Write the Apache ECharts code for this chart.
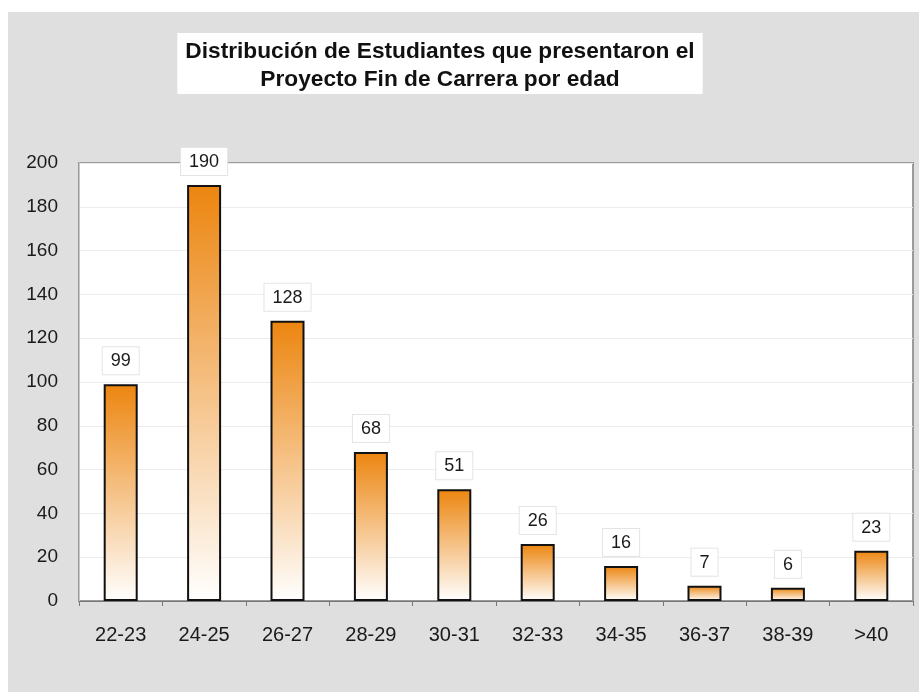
<!DOCTYPE html>
<html>
<head>
<meta charset="utf-8">
<script src="https://cdn.jsdelivr.net/npm/echarts@6/dist/echarts.min.js"></script>
<style>
  html, body { margin: 0; padding: 0; background: #fff; }
</style>
</head>
<body>
<div id="chart" style="width: 919px; height: 692px;"></div>
<script>
// datos
const edades = ['22-23', '24-25', '26-27', '28-29', '30-31', '32-33', '34-35', '36-37', '38-39', '>40'];
const estudiantes = [99, 190, 128, 68, 51, 26, 16, 7, 6, 23];
const yTicks = [0, 20, 40, 60, 80, 100, 120, 140, 160, 180, 200];

const fuente = 'Arial, "Liberation Sans", Helvetica, sans-serif';

const chart = echarts.init(document.getElementById('chart'));

const option = {
    backgroundColor: '#fff',
    animation: false,
    graphic: {
        elements: [{
            type: 'rect',
            z: -100,
            silent: true,
            shape: { x: 8, y: 12, width: 911, height: 680 },
            style: { fill: '#dfdfdf' }
        }]
    },
    title: {
        text: 'Distribución de Estudiantes que presentaron el\nProyecto Fin de Carrera por edad',
        left: 432,
        top: 33,
        textAlign: 'center',
        backgroundColor: '#fff',
        padding: [5, 8, 0, 8],
        textStyle: {
            fontFamily: fuente,
            fontSize: 22.7,
            fontWeight: 'bold',
            color: '#111',
            lineHeight: 28
        }
    },
    grid: {
        left: 79,
        right: 6,
        top: 163,
        bottom: 91,
        show: true,
        backgroundColor: '#fff',
        borderColor: '#9a9a9a',
        borderWidth: 2
    },
    xAxis: {
        type: 'category',
        data: edades,
        axisLine: { lineStyle: { color: '#777', width: 1 } },
        axisTick: { show: true, length: 5, lineStyle: { color: '#777' } },
        axisLabel: {
            margin: 24,
            fontFamily: fuente,
            fontSize: 20,
            color: '#1a1a1a'
        }
    },
    yAxis: {
        type: 'value',
        min: 0,
        max: 200,
        interval: 20,
        axisLine: { show: true, lineStyle: { color: '#c8c8c8' } },
        axisTick: { show: false },
        splitLine: { lineStyle: { color: '#ececec', width: 1 } },
        axisLabel: {
            margin: 21,
            fontFamily: fuente,
            fontSize: 19,
            color: '#1a1a1a',
            formatter: v => yTicks.includes(v) ? String(v) : ''
        }
    },
    series: [{
        type: 'bar',
        data: estudiantes,
        barWidth: 34,
        itemStyle: {
            borderColor: '#111',
            borderWidth: 2,
            color: new echarts.graphic.LinearGradient(0, 0, 0, 1, [
                { offset: 0, color: '#ec850f' },
                { offset: 1, color: '#ffffff' }
            ])
        },
        label: {
            show: true,
            position: 'top',
            distance: 10,
            fontFamily: fuente,
            fontSize: 18,
            color: '#1a1a1a',
            backgroundColor: '#fff',
            borderColor: '#e4e4e4',
            borderWidth: 1,
            padding: [5, 8, 4, 8]
        }
    }]
};

chart.setOption(option);
</script>
</body>
</html>
